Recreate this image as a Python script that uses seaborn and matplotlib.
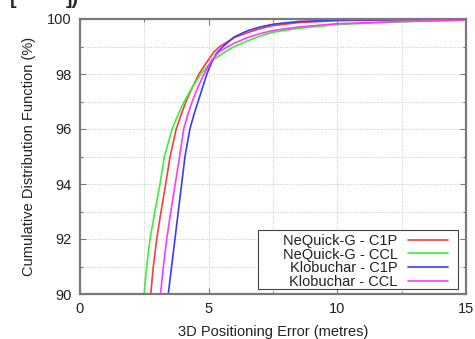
import numpy as np
import pandas as pd
import matplotlib
matplotlib.use("Agg")
import matplotlib.pyplot as plt
from matplotlib.ticker import MultipleLocator
from matplotlib.patches import Rectangle
import seaborn as sns

# Empirical CDF of 3D positioning error, one (error, percentile) list per model
series_names = ["NeQuick-G - C1P", "NeQuick-G - CCL", "Klobuchar - C1P", "Klobuchar - CCL"]

nequick_c1p_err = [2.75, 2.85, 2.98, 3.15, 3.33, 3.50, 3.74, 3.92, 4.12, 4.36, 4.62, 4.98, 5.2, 5.44,
                   6.0, 6.5, 7.0, 7.5, 8.5, 10.0, 12.5, 15.0]
nequick_c1p_cdf = [90, 91, 92, 93, 94, 95, 96, 96.5, 97, 97.5, 98, 98.5, 98.8, 99.0,
                   99.33, 99.5, 99.65, 99.76, 99.87, 99.94, 99.97, 99.99]

nequick_ccl_err = [2.49, 2.59, 2.72, 2.91, 3.11, 3.28, 3.58, 3.80, 4.05, 4.35, 4.70, 5.15, 5.5, 5.89,
                   6.5, 7.0, 7.5, 8.5, 10.0, 12.5, 15.0]
nequick_ccl_cdf = [90, 91, 92, 93, 94, 95, 96, 96.5, 97, 97.5, 98, 98.5, 98.72, 98.95,
                   99.2, 99.38, 99.52, 99.66, 99.8, 99.9, 99.96]

klobuchar_c1p_err = [3.43, 3.56, 3.69, 3.82, 3.95, 4.08, 4.27, 4.42, 4.59, 4.76, 4.93, 5.15, 5.3, 5.56,
                     6.0, 6.5, 7.0, 7.5, 8.5, 10.0, 12.5, 15.0]
klobuchar_c1p_cdf = [90, 91, 92, 93, 94, 95, 96, 96.5, 97, 97.5, 98, 98.5, 98.75, 99.0,
                     99.35, 99.57, 99.71, 99.81, 99.91, 99.96, 99.98, 99.99]

klobuchar_ccl_err = [3.13, 3.24, 3.37, 3.53, 3.70, 3.87, 4.03, 4.18, 4.36, 4.57, 4.82, 5.12, 5.4, 5.75,
                     6.0, 6.5, 7.0, 7.5, 8.5, 10.0, 12.5, 15.0]
klobuchar_ccl_cdf = [90, 91, 92, 93, 94, 95, 96, 96.5, 97, 97.5, 98, 98.5, 98.8, 99.0,
                     99.12, 99.32, 99.47, 99.58, 99.71, 99.83, 99.91, 99.96]

line_colors = ["#ff3a3a", "#3af03a", "#3a3aff", "#ff3aff"]

frames = []
for name, err, cdf in zip(
    series_names,
    [nequick_c1p_err, nequick_ccl_err, klobuchar_c1p_err, klobuchar_ccl_err],
    [nequick_c1p_cdf, nequick_ccl_cdf, klobuchar_c1p_cdf, klobuchar_ccl_cdf],
):
    frames.append(pd.DataFrame({"error": err, "cdf": cdf, "model": name}))
df = pd.concat(frames, ignore_index=True)

sns.set_theme(style="white")
plt.rcParams["font.family"] = ["Liberation Sans", "DejaVu Sans"]

fig = plt.figure(figsize=(4.75, 3.39), dpi=100)
ax = fig.add_axes([80 / 475, 1 - 294 / 339, 386 / 475, 275 / 339])

sns.lineplot(
    data=df, x="error", y="cdf", hue="model", hue_order=series_names,
    palette=line_colors, estimator=None, sort=False, linewidth=1.2, ax=ax,
)
for ln in ax.get_lines():
    ln.set_solid_joinstyle("round")

ax.set_xlim(0, 15)
ax.set_ylim(90, 100)
ax.xaxis.set_major_locator(MultipleLocator(5))
ax.xaxis.set_minor_locator(MultipleLocator(2.5))
ax.yaxis.set_major_locator(MultipleLocator(2))
ax.yaxis.set_minor_locator(MultipleLocator(1))

ax.grid(which="both", color="#c8c8c8", linestyle=(0, (1, 1.5)), linewidth=0.7)
ax.set_axisbelow(True)

for side in ["left", "bottom", "top", "right"]:
    ax.spines[side].set_color("#7a7a7a")
    ax.spines[side].set_linewidth(1.6)

ax.tick_params(which="both", direction="in", top=True, right=True, bottom=True, left=True,
               color="#7a7a7a", labelsize=10.5, labelcolor="#222222")
ax.tick_params(which="major", length=4, width=0.8, pad=6)
ax.tick_params(which="minor", length=2.5, width=0.8)

ax.set_xlabel("3D Positioning Error (metres)", fontsize=10.5, color="#222222", labelpad=6)
ax.set_ylabel("Cumulative Distribution Function (%)", fontsize=10.5, color="#222222", labelpad=8)

# Key: labels right-aligned against their line samples, inside a plain box
leg = ax.legend(
    loc="lower right", bbox_to_anchor=((448 - 80) / 386, (294 - 289) / 275), fontsize=10.5,
    markerfirst=False, frameon=False, handlelength=2.75, handletextpad=0.7,
    labelspacing=-0.02, borderpad=0.0, borderaxespad=0,
)
for col in leg._legend_handle_box.get_children():
    col.align = "right"
for t in leg.get_texts():
    t.set_color("#222222")
leg.set_zorder(6)
ax.add_patch(Rectangle(((258 - 80) / 386, (294 - 289) / 275), 200 / 386, 59 / 275,
                       transform=ax.transAxes, facecolor="white", edgecolor="#444444",
                       linewidth=0.8, zorder=5))

# Caption fragment along the top edge
fig.text(10 / 475, 1 - 4 / 339, "[", fontsize=14, fontweight="bold", va="baseline")
fig.text(66 / 475, 1 - 4 / 339, "])", fontsize=14, fontweight="bold", va="baseline")

fig.savefig("out.png", dpi=100)
